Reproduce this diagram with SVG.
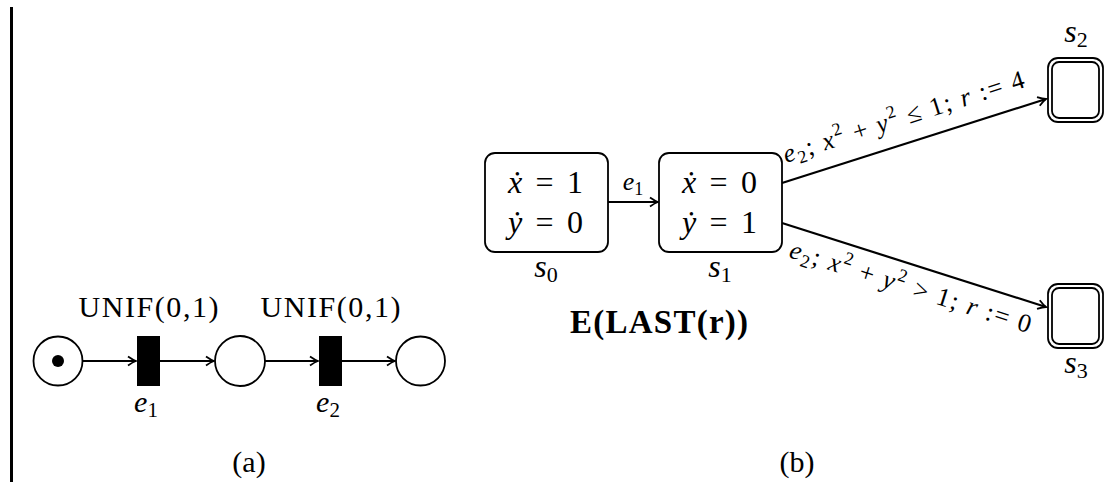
<svg xmlns="http://www.w3.org/2000/svg" width="1106" height="491" viewBox="0 0 1106 491">
<style>
.t{font-family:"Liberation Serif","DejaVu Serif",serif;fill:#000}
.i{font-style:italic}
.b{font-weight:bold}
.ln{stroke:#000;stroke-width:2.2;fill:none}
.pl{stroke:#000;stroke-width:1.8;fill:#fff}
.tr{fill:#000}
.box{stroke:#000;stroke-width:1.8;fill:#fff}
</style>
<defs>
<marker id="ah" markerUnits="userSpaceOnUse" markerWidth="14" markerHeight="14" viewBox="-10 -7 12 14" refX="0" refY="0" orient="auto">
<path d="M-8,-4.5 Q-3,-1 0,0 Q-3,1 -8,4.5" stroke="#000" stroke-width="1.8" fill="none"/>
</marker>
</defs>
<rect width="1106" height="491" fill="#fff"/>
<line x1="11.5" y1="7" x2="11.5" y2="482" stroke="#000" stroke-width="3"/>

<g id="connectors">
<line class="ln" x1="82.5" y1="361" x2="136" y2="361" marker-end="url(#ah)"/>
<line class="ln" x1="160" y1="361" x2="214" y2="361" marker-end="url(#ah)"/>
<line class="ln" x1="265" y1="361" x2="318" y2="361" marker-end="url(#ah)"/>
<line class="ln" x1="342" y1="361" x2="395" y2="361" marker-end="url(#ah)"/>
<line class="ln" x1="608" y1="202" x2="658" y2="202" marker-end="url(#ah)"/>
<line class="ln" x1="782" y1="183" x2="1046" y2="99" marker-end="url(#ah)"/>
<line class="ln" x1="782" y1="223" x2="1046" y2="307" marker-end="url(#ah)"/>
<text class="t" x="633" y="190" font-size="26" text-anchor="middle"><tspan class="i">e</tspan><tspan font-size="18" dy="5">1</tspan></text>
<text class="t" x="786" y="163" font-size="26" transform="rotate(-17.6 786 163)" textLength="252"><tspan class="i">e</tspan><tspan font-size="18" dy="5">2</tspan><tspan dy="-5">; </tspan><tspan class="i">x</tspan><tspan font-size="18" dy="-11">2</tspan><tspan dy="11"> + </tspan><tspan class="i">y</tspan><tspan font-size="18" dy="-11">2</tspan><tspan dy="11"> ≤ 1; </tspan><tspan class="i">r</tspan><tspan> := 4</tspan></text>
<text class="t" x="788" y="257" font-size="26" transform="rotate(17.6 788 257)" textLength="252"><tspan class="i">e</tspan><tspan font-size="18" dy="5">2</tspan><tspan dy="-5">; </tspan><tspan class="i">x</tspan><tspan font-size="18" dy="-11">2</tspan><tspan dy="11"> + </tspan><tspan class="i">y</tspan><tspan font-size="18" dy="-11">2</tspan><tspan dy="11"> &gt; 1; </tspan><tspan class="i">r</tspan><tspan> := 0</tspan></text>
</g>

<g id="p1">
<circle class="pl" cx="58" cy="361" r="24.5"/>
<circle cx="58" cy="361" r="6" fill="#000"/>
</g>
<g id="t1">
<rect class="tr" x="137" y="336" width="23" height="50"/>
<text class="t" x="148.5" y="317" font-size="30" text-anchor="middle" textLength="140">UNIF(0,1)</text>
<text class="t" x="146" y="412" font-size="30" text-anchor="middle"><tspan class="i">e</tspan><tspan font-size="21" dy="5">1</tspan></text>
</g>
<g id="p2">
<circle class="pl" cx="240" cy="361" r="25"/>
</g>
<g id="t2">
<rect class="tr" x="319" y="336" width="23" height="50"/>
<text class="t" x="330.5" y="317" font-size="30" text-anchor="middle" textLength="140">UNIF(0,1)</text>
<text class="t" x="328" y="412" font-size="30" text-anchor="middle"><tspan class="i">e</tspan><tspan font-size="21" dy="5">2</tspan></text>
</g>
<g id="p3">
<circle class="pl" cx="420.5" cy="361" r="24.5"/>
</g>
<text class="t" x="249" y="472" font-size="30" text-anchor="middle">(a)</text>

<g id="s0">
<rect class="box" x="485" y="153" width="123" height="99" rx="10"/>
<text class="t" x="508" y="193" font-size="32" textLength="75"><tspan class="i">ẋ</tspan> = 1</text>
<text class="t" x="508" y="233" font-size="32" textLength="75"><tspan class="i">ẏ</tspan> = 0</text>
<text class="t" x="546" y="277" font-size="32" text-anchor="middle"><tspan class="i">s</tspan><tspan font-size="22" dy="5">0</tspan></text>
</g>
<g id="s1">
<rect class="box" x="659" y="153" width="123" height="99" rx="10"/>
<text class="t" x="682" y="193" font-size="32" textLength="75"><tspan class="i">ẋ</tspan> = 0</text>
<text class="t" x="682" y="233" font-size="32" textLength="75"><tspan class="i">ẏ</tspan> = 1</text>
<text class="t" x="720" y="277" font-size="32" text-anchor="middle"><tspan class="i">s</tspan><tspan font-size="22" dy="5">1</tspan></text>
</g>
<g id="s2">
<rect class="box" x="1048" y="58" width="55" height="64" rx="10"/>
<rect class="box" x="1052" y="62" width="47" height="56" rx="7"/>
<text class="t" x="1076" y="42" font-size="32" text-anchor="middle"><tspan class="i">s</tspan><tspan font-size="22" dy="5">2</tspan></text>
</g>
<g id="s3">
<rect class="box" x="1048" y="284" width="55" height="64" rx="10"/>
<rect class="box" x="1052" y="288" width="47" height="56" rx="7"/>
<text class="t" x="1076" y="373" font-size="32" text-anchor="middle"><tspan class="i">s</tspan><tspan font-size="22" dy="5">3</tspan></text>
</g>
<text class="t b" x="570" y="333" font-size="33" textLength="178">E(LAST(r))</text>
<text class="t" x="797" y="472" font-size="30" text-anchor="middle">(b)</text>
</svg>
